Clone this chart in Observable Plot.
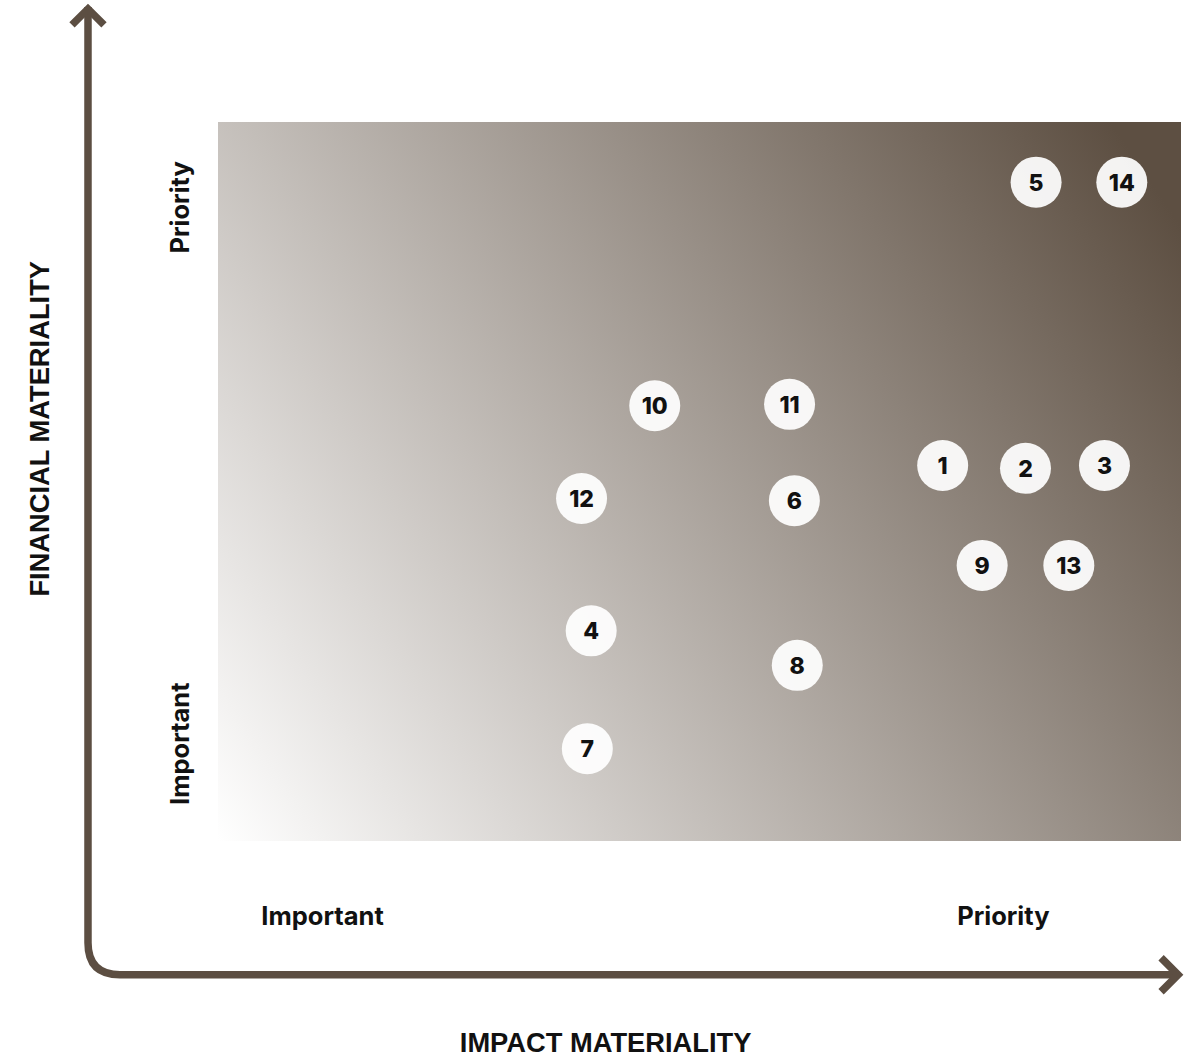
<!DOCTYPE html>
<html>
<head>
<meta charset="utf-8">
<script src="https://cdn.jsdelivr.net/npm/d3@7"></script>
<script src="https://cdn.jsdelivr.net/npm/@observablehq/plot@0.6"></script>
<style>
  html, body { margin: 0; padding: 0; background: #ffffff; }
  #chart svg { display: block; }
</style>
</head>
<body>
<div id="chart"></div>
<script>
// ---- Data ----
const topicIds = ["1","2","3","4","5","6","7","8","9","10","11","12","13","14"];
const impactScores =    [75.2, 83.8, 92.0, 38.7, 84.9, 59.8, 38.3, 60.1, 79.3, 45.3, 59.3, 37.7, 88.3, 93.8];
const financialScores = [52.3, 51.9, 52.3, 29.3, 91.7, 47.4, 12.9, 24.5, 38.4, 60.6, 60.8, 47.7, 38.4, 91.7];

const xTickLabels = ["Important", "Priority"];
const xTickValues = [10.8, 81.5];
const yTickLabels = ["Important", "Priority"];
const yTickValues = [13.6, 88.2];

const xTitle = "IMPACT MATERIALITY";
const yTitle = "FINANCIAL MATERIALITY";

const topics = topicIds.map((id, i) => ({id, impact: impactScores[i], financial: financialScores[i]}));
const xTicks = xTickLabels.map((label, i) => ({label, x: xTickValues[i]}));
const yTicks = yTickLabels.map((label, i) => ({label, y: yTickValues[i]}));

const brown = "#5c4e42";
const W = 1195, H = 1060;

const plot = Plot.plot({
  width: W,
  height: H,
  marginLeft: 218,
  marginRight: 14,
  marginTop: 122,
  marginBottom: 219,
  x: {domain: [0, 100], axis: null},
  y: {domain: [0, 100], axis: null},
  style: {background: "#ffffff", overflow: "visible"},
  marks: [
    Plot.rect([{}], {x1: 0, x2: 100, y1: 0, y2: 100, fill: "url(#matGrad)"}),
    Plot.dot(topics, {x: "impact", y: "financial", r: 25.5, fill: "#ffffff", fillOpacity: 0.93, stroke: "none"}),
    Plot.text(topics, {x: "impact", y: "financial", text: "id", dy: 1, fill: "#111111",
      fontFamily: "Inter", fontWeight: 800, fontSize: 23}),
    Plot.text(xTicks, {x: "x", text: "label", frameAnchor: "bottom", lineAnchor: "middle", dy: 75, fill: "#111111",
      fontFamily: "Inter", fontWeight: 700, fontSize: 25.5}),
    Plot.text(yTicks, {y: "y", text: "label", frameAnchor: "left", textAnchor: "middle", dx: -38, rotate: -90, fill: "#111111",
      fontFamily: "Inter", fontWeight: 700, fontSize: 25.5}),
    Plot.text([xTitle], {x: 40.2, text: d => d, frameAnchor: "bottom", lineAnchor: "middle", dy: 202, fill: "#111111",
      fontFamily: "Liberation Sans", fontWeight: 700, fontSize: 27.3}),
    Plot.text([yTitle], {y: 57.4, text: d => d, frameAnchor: "left", textAnchor: "middle", dx: -178, rotate: -90, fill: "#111111",
      fontFamily: "Liberation Sans", fontWeight: 700, fontSize: 27.3})
  ]
});

const sx = plot.scale("x"), sy = plot.scale("y");
const svg = d3.select(plot);

// gradient: white at bottom-left to dark brown towards top-right
const defs = svg.insert("defs", ":first-child");
const grad = defs.append("linearGradient")
  .attr("id", "matGrad")
  .attr("gradientUnits", "userSpaceOnUse")
  .attr("x1", sx.apply(0)).attr("y1", sy.apply(0))
  .attr("x2", sx.apply(98.5)).attr("y2", sy.apply(88.5));
grad.append("stop").attr("offset", 0).attr("stop-color", "#ffffff");
grad.append("stop").attr("offset", 1).attr("stop-color", "#5d4f42");

// axis arrows (decorative), positioned from the scales
const axX = sx.apply(-13.5);   // vertical axis position
const axY = sy.apply(-18.6);   // horizontal axis position
const topY = sy.apply(116);
const rightX = sx.apply(99.8);
const rc = 32;
const g = svg.append("g").attr("fill", "none").attr("stroke", brown).attr("stroke-width", 7.5);
g.append("path").attr("d",
  `M${axX},${topY} L${axX},${axY - rc} Q${axX},${axY} ${axX + rc},${axY} L${rightX},${axY}`);
g.append("path").attr("stroke-linejoin", "miter").attr("d",
  `M${axX - 16},${topY + 18} L${axX},${topY + 2} L${axX + 16},${topY + 18}`);
g.append("path").attr("stroke-linejoin", "miter").attr("d",
  `M${rightX - 18},${axY - 17} L${rightX - 1},${axY} L${rightX - 18},${axY + 17}`);

document.getElementById("chart").appendChild(plot);
</script>
</body>
</html>
